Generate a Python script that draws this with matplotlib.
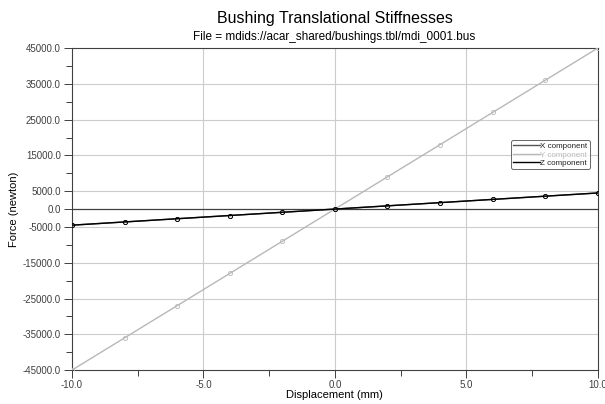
import matplotlib
matplotlib.use("Agg")
import matplotlib.pyplot as plt
import numpy as np

plt.rcParams['font.family'] = ['Liberation Sans', 'DejaVu Sans']

# displacement (mm) and force (newton)
disp = [-10.0, -8.0, -6.0, -4.0, -2.0, 0.0, 2.0, 4.0, 6.0, 8.0, 10.0]
force_x = [-4500.0, -3600.0, -2700.0, -1800.0, -900.0, 0.0, 900.0, 1800.0, 2700.0, 3600.0, 4500.0]
force_y = [-45000.0, -36000.0, -27000.0, -18000.0, -9000.0, 0.0, 9000.0, 18000.0, 27000.0, 36000.0, 45000.0]
force_z = [-4500.0, -3600.0, -2700.0, -1800.0, -900.0, 0.0, 900.0, 1800.0, 2700.0, 3600.0, 4500.0]

y_major = [-45000, -35000, -25000, -15000, -5000, 0, 5000, 15000, 25000, 35000, 45000]
y_minor = [-40000, -30000, -20000, -10000, 10000, 20000, 30000, 40000]
x_major = [-10, -5, 0, 5, 10]
x_minor = [-7.5, -2.5, 2.5, 7.5]

fig = plt.figure(figsize=(6.05, 4.04), dpi=100)
ax = fig.add_axes([0.119, 0.084, 0.869, 0.797])

ax.plot(disp, force_y, color='#b8b8b8', lw=1.0, marker='o', ms=3, mfc='none', mew=0.6,
        label='Y component', zorder=3)
ax.plot(disp, force_x, color='#555555', lw=1.0, marker='o', ms=3, mfc='none', mew=0.6,
        label='X component', zorder=4)
ax.plot(disp, force_z, color='black', lw=1.0, marker='o', ms=3, mfc='none', mew=0.6,
        label='Z component', zorder=5)

ax.axhline(0, color='#404040', lw=0.9, zorder=2)

ax.set_xlim(-10, 10)
ax.set_ylim(-45000, 45000)
ax.set_xticks(x_major)
ax.set_xticks(x_minor, minor=True)
ax.set_yticks(y_major)
ax.set_yticks(y_minor, minor=True)
ax.set_xticklabels([f"{v:.1f}" for v in x_major])
ax.set_yticklabels([f"{v:.1f}" for v in y_major])
ax.tick_params(axis='both', which='major', labelsize=7, labelcolor='#404040', length=6,
               width=0.7, color='#404040', pad=2)
ax.tick_params(axis='x', which='major', pad=1)
ax.tick_params(axis='both', which='minor', length=4, width=0.7, color='#404040')

for v in y_major:
    if v not in (0, 45000, -45000):
        ax.axhline(v, color='#cccccc', lw=0.8, zorder=1)
for v in x_major[1:-1]:
    ax.axvline(v, color='#cccccc', lw=0.8, zorder=1)

for s in ax.spines.values():
    s.set_color('#404040')
    s.set_linewidth(0.8)

ax.set_xlabel('Displacement (mm)', fontsize=8, labelpad=0)
ax.set_ylabel('Force (newton)', fontsize=8, labelpad=3)

fig.text(0.553, 0.953, 'Bushing Translational Stiffnesses', ha='center', va='center', fontsize=11.5)
fig.text(0.553, 0.908, 'File = mdids://acar_shared/bushings.tbl/mdi_0001.bus', ha='center',
         va='center', fontsize=8.5)

h, l = ax.get_legend_handles_labels()
order = [1, 0, 2]
leg = ax.legend([plt.Line2D([], [], color=h[i].get_color(), lw=1.0) for i in order],
                [l[i] for i in order], loc='upper left', bbox_to_anchor=(0.835, 0.713),
                fontsize=5.8, frameon=True, fancybox=True, handlelength=3.3, handletextpad=0.1,
                borderpad=0.25, labelspacing=0.1, borderaxespad=0)
leg.get_frame().set_edgecolor('#404040')
leg.get_frame().set_linewidth(0.7)
for t, i in zip(leg.get_texts(), order):
    t.set_color(h[i].get_color() if i == 0 else '#222222')

fig.savefig('out.png', dpi=100)
